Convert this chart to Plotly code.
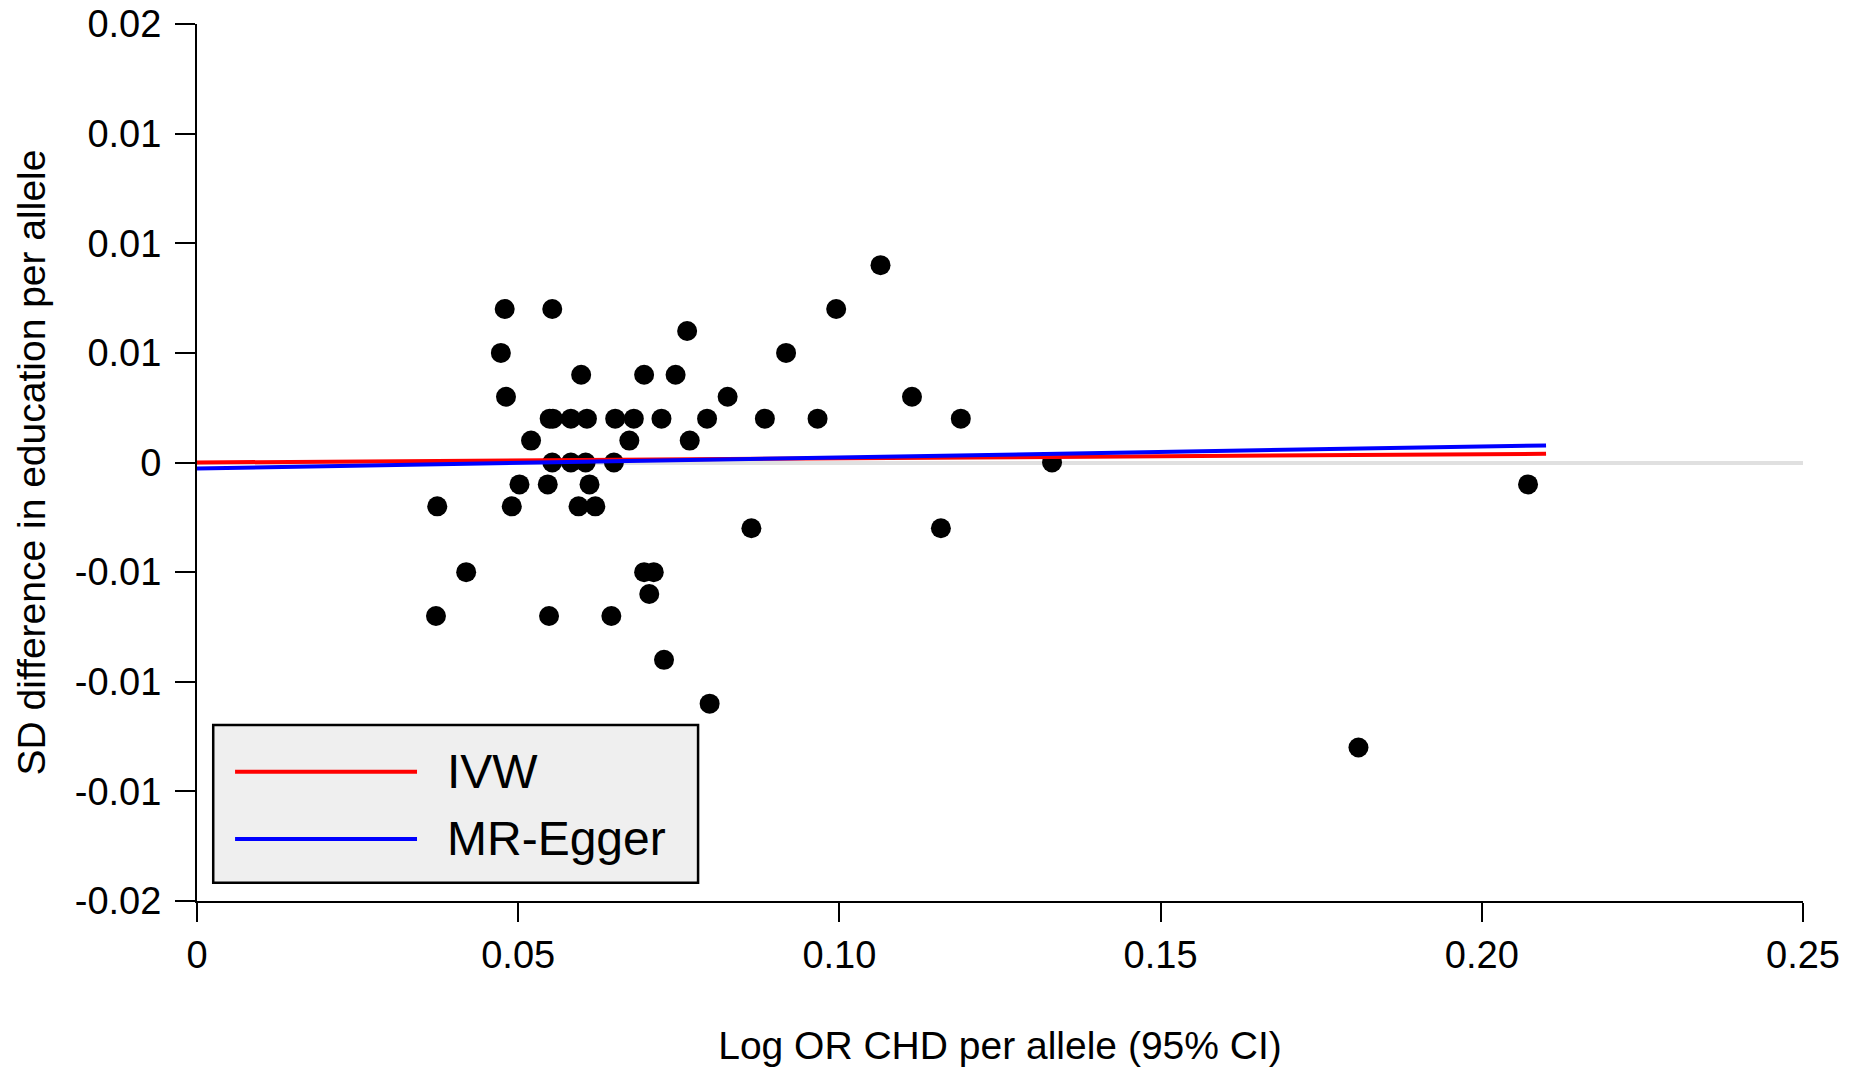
import numpy as np
import plotly.graph_objects as go

# ---- data ----
log_or_chd = [0.1064,
              0.0479, 0.0553, 0.0995,
              0.0763,
              0.0473, 0.0917,
              0.0598, 0.0696, 0.0745,
              0.0481, 0.0826, 0.1113,
              0.0549, 0.0554, 0.0582, 0.0607, 0.0651, 0.0680, 0.0723, 0.0794, 0.0884, 0.0966, 0.1189,
              0.0520, 0.0673, 0.0767,
              0.0553, 0.0582, 0.0605, 0.0649, 0.1331,
              0.0502, 0.0546, 0.0611, 0.2072,
              0.0374, 0.0490, 0.0594, 0.0620,
              0.0863, 0.1158,
              0.0419, 0.0696, 0.0711,
              0.0704,
              0.0372, 0.0548, 0.0645,
              0.0727,
              0.0798,
              0.1808]
sd_education = [0.009,
                0.007, 0.007, 0.007,
                0.006,
                0.005, 0.005,
                0.004, 0.004, 0.004,
                0.003, 0.003, 0.003,
                0.002, 0.002, 0.002, 0.002, 0.002, 0.002, 0.002, 0.002, 0.002, 0.002, 0.002,
                0.001, 0.001, 0.001,
                0.0, 0.0, 0.0, 0.0, 0.0,
                -0.001, -0.001, -0.001, -0.001,
                -0.002, -0.002, -0.002, -0.002,
                -0.003, -0.003,
                -0.005, -0.005, -0.005,
                -0.006,
                -0.007, -0.007, -0.007,
                -0.009,
                -0.011,
                -0.013]

fit_x = [0.0, 0.21]
ivw_slope = 0.0019
egger_intercept = -0.00027
egger_slope = 0.0050

x_tickvals = [0, 0.05, 0.10, 0.15, 0.20, 0.25]
x_ticktext = ["0", "0.05", "0.10", "0.15", "0.20", "0.25"]
y_tickvals = [-0.02, -0.015, -0.01, -0.005, 0, 0.005, 0.01, 0.015, 0.02]
y_ticktext = ["-0.02", "-0.01", "-0.01", "-0.01", "0", "0.01", "0.01", "0.01", "0.02"]

series_names = ["IVW", "MR-Egger"]
series_colors = ["#ff0000", "#0000ff"]

FONT = "Liberation Sans, Arial, sans-serif"

fx = np.array(fit_x)
ivw_y = ivw_slope * fx
egger_y = egger_intercept + egger_slope * fx

fig = go.Figure()
fig.add_trace(go.Scatter(x=log_or_chd, y=sd_education, mode="markers",
                         marker=dict(color="black", size=20, line=dict(width=0)),
                         showlegend=False, cliponaxis=False))
fig.add_trace(go.Scatter(x=fx, y=ivw_y, mode="lines", name=series_names[0],
                         line=dict(color=series_colors[0], width=4), showlegend=False))
fig.add_trace(go.Scatter(x=fx, y=egger_y, mode="lines", name=series_names[1],
                         line=dict(color=series_colors[1], width=4), showlegend=False))

# manual legend box (R-style) in paper coordinates
leg_box = dict(x0=0.0101, x1=0.312, y0=0.0209, y1=0.2007)
leg_rows = [0.1474, 0.0707]
fig.add_shape(type="rect", xref="paper", yref="paper", **leg_box,
              fillcolor="#efefef", line=dict(color="black", width=2.5), layer="above")
for name, color, yr in zip(series_names, series_colors, leg_rows):
    fig.add_shape(type="line", xref="paper", yref="paper", x0=0.0237, x1=0.137, y0=yr, y1=yr,
                  line=dict(color=color, width=4), layer="above")
    fig.add_annotation(xref="paper", yref="paper", x=0.1545, y=yr, text=name, showarrow=False,
                       xanchor="left", yanchor="middle",
                       font=dict(family=FONT, size=48, color="black"))

axis_common = dict(showline=True, linecolor="black", linewidth=2, ticks="outside",
                   tickcolor="black", tickwidth=2, showgrid=False, mirror=False,
                   automargin=False,
                   tickfont=dict(family=FONT, size=38, color="black"))

fig.update_layout(
    width=1858, height=1068,
    margin=dict(l=197, r=55, t=24, b=167),
    plot_bgcolor="white", paper_bgcolor="white",
    xaxis=dict(range=[0, 0.25], tickvals=x_tickvals, ticktext=x_ticktext, ticklen=19,
               zeroline=False,
               title=dict(text="Log OR CHD per allele (95% CI)", standoff=57,
                          font=dict(family=FONT, size=39, color="black")),
               **axis_common),
    yaxis=dict(range=[-0.02, 0.02], tickvals=y_tickvals, ticktext=y_ticktext, ticklen=20,
               zeroline=True, zerolinecolor="#e0e0e0", zerolinewidth=4,
               ticklabelstandoff=6,
               title=dict(text="SD difference in education per allele", standoff=17,
                          font=dict(family=FONT, size=39, color="black")),
               **axis_common),
)

fig.write_html("out.html")
